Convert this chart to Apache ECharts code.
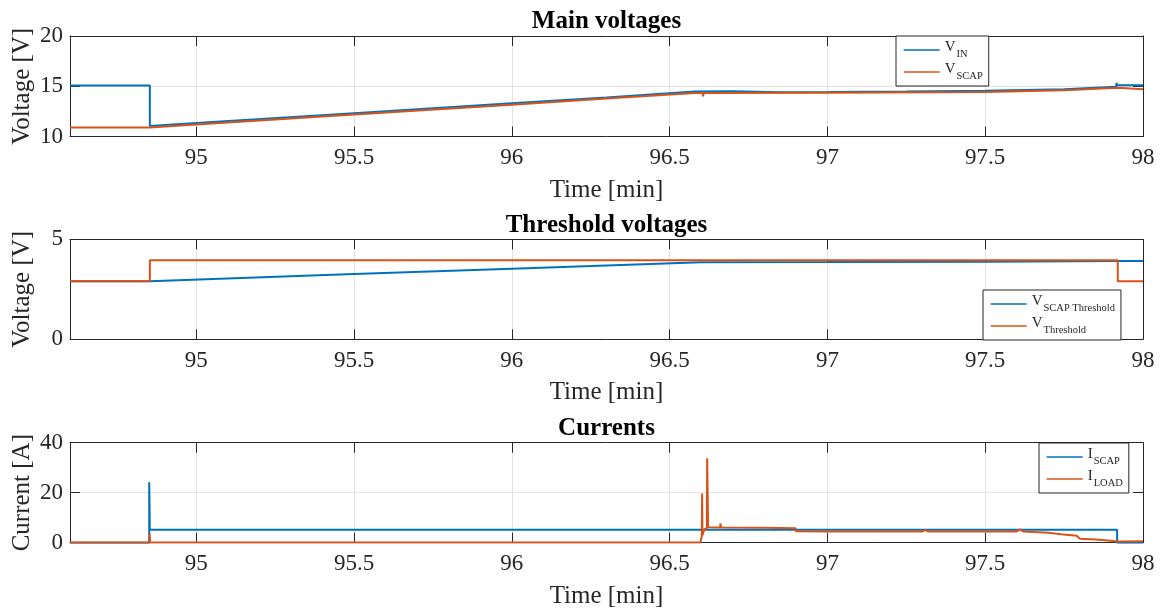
<!DOCTYPE html>
<html>
<head>
<meta charset="utf-8">
<script src="https://cdn.jsdelivr.net/npm/echarts@6/dist/echarts.min.js"></script>
<style>
  html, body { margin: 0; padding: 0; background: #ffffff; }
  #chart { width: 1163px; height: 611px; }
</style>
</head>
<body>
<div id="chart"></div>
<script>
// Time window shown on every panel [min]
const timeRange = [94.6, 98];
const timeTicks = [95, 95.5, 96, 96.5, 97, 97.5, 98];

// Main voltages [V] as [time, value]
const vIn = [
  [94.6, 15.07], [94.853, 15.07], [94.853, 11.05], [95.0, 11.34], [95.5, 12.32],
  [96.0, 13.3], [96.3, 13.89], [96.58, 14.48], [96.7, 14.5], [96.85, 14.4],
  [97.0, 14.42], [97.25, 14.47], [97.5, 14.55], [97.75, 14.7], [97.915, 14.95],
  [97.916, 15.35], [97.918, 15.1], [98.0, 15.1]
];
const vScap = [
  [94.6, 10.9], [94.853, 10.9], [95.0, 11.19], [95.5, 12.18], [96.0, 13.17],
  [96.3, 13.77], [96.58, 14.32], [96.605, 14.32], [96.606, 14.0], [96.608, 14.32],
  [97.0, 14.35], [97.5, 14.42], [97.75, 14.6], [97.92, 14.85], [98.0, 14.7]
];

// Threshold voltages [V]
const vScapThreshold = [
  [94.6, 2.9], [94.853, 2.9], [95.5, 3.27], [96.0, 3.53], [96.6, 3.85],
  [97.0, 3.86], [97.5, 3.88], [97.92, 3.92], [98.0, 3.92]
];
const vThreshold = [
  [94.6, 2.9], [94.853, 2.9], [94.853, 3.95], [97.92, 3.95], [97.92, 2.9], [98.0, 2.9]
];

// Currents [A]
const iScap = [
  [94.6, 0], [94.851, 0], [94.851, 24.2], [94.853, 5.2], [97.918, 5.2],
  [97.918, 0], [98.0, 0]
];
const iLoad = [
  [94.6, 0.1], [94.852, 0.1], [94.852, 3.9], [94.854, 0.1], [96.597, 0.1],
  [96.602, 2.5], [96.603, 19.7], [96.604, 3.0], [96.61, 5.3], [96.618, 5.8],
  [96.619, 33.8], [96.621, 33.8], [96.622, 6.2], [96.66, 6.1], [96.661, 7.7],
  [96.663, 6.1], [96.8, 6.0], [96.9, 5.8], [96.9, 4.6], [97.0, 4.5],
  [97.3, 4.45], [97.31, 5.0], [97.32, 4.45], [97.6, 4.5], [97.61, 5.3],
  [97.62, 4.5], [97.7, 4.0], [97.74, 3.4], [97.79, 2.8], [97.8, 1.6],
  [97.85, 1.3], [97.88, 1.0], [97.92, 0.5], [98.0, 0.6]
];

// Panel titles and axis names
const panelTitles = ['Main voltages', 'Threshold voltages', 'Currents'];
const yNames = ['Voltage [V]', 'Voltage [V]', 'Current [A]'];
const xName = 'Time [min]';
const yRanges = [[10, 20, 5], [0, 5, 5], [0, 40, 20]];

// Legend labels: main letter + subscript
const legendLabels = {
  'V_IN': ['V', 'IN'],
  'V_SCAP': ['V', 'SCAP'],
  'V_SCAP Threshold': ['V', 'SCAP Threshold'],
  'V_Threshold': ['V', 'Threshold'],
  'I_SCAP': ['I', 'SCAP'],
  'I_LOAD': ['I', 'LOAD']
};

const BLUE = '#0072BD';
const ORANGE = '#D95319';
const INK = '#262626';
const GRIDC = '#e3e3e3';
const FONT = 'Liberation Serif';
const FS = 23;       // tick labels
const FS_LABEL = 25; // axis names and titles

const gridTops = [36, 239.3, 442.7];
const gridHeights = [100.5, 100, 100];

const grids = gridTops.map((t, i) => ({
  left: 70, right: 20, top: t, height: gridHeights[i],
  containLabel: false, outerBoundsMode: 'none'
}));

const xAxes = [];
const yAxes = [];
gridTops.forEach((t, i) => {
  xAxes.push({
    type: 'value', gridIndex: i, min: timeRange[0], max: timeRange[1], position: 'bottom',
    name: xName, nameLocation: 'middle', nameGap: 41, nameMoveOverlap: false,
    nameTextStyle: { fontFamily: FONT, fontSize: FS_LABEL, color: INK },
    axisLine: { show: true, onZero: false, lineStyle: { color: INK, width: 1 } },
    axisTick: { show: true, inside: true, length: 10, customValues: timeTicks, lineStyle: { color: INK } },
    axisLabel: { show: true, customValues: timeTicks, margin: 10, fontFamily: FONT, fontSize: FS, color: INK },
    splitLine: { show: true, lineStyle: { color: GRIDC, width: 1 } }
  });
  xAxes.push({
    type: 'value', gridIndex: i, min: timeRange[0], max: timeRange[1], position: 'top',
    axisLine: { show: true, onZero: false, lineStyle: { color: INK, width: 1 } },
    axisTick: { show: true, inside: true, length: 10, customValues: timeTicks, lineStyle: { color: INK } },
    axisLabel: { show: false },
    splitLine: { show: false }
  });
  const [ymin, ymax, yint] = yRanges[i];
  yAxes.push({
    type: 'value', gridIndex: i, min: ymin, max: ymax, interval: yint, position: 'left',
    name: yNames[i], nameLocation: 'middle', nameGap: 35, nameRotate: 90, nameMoveOverlap: false,
    nameTextStyle: { fontFamily: FONT, fontSize: FS_LABEL, color: INK },
    axisLine: { show: true, onZero: false, lineStyle: { color: INK, width: 1 } },
    axisTick: { show: true, inside: true, length: 10, lineStyle: { color: INK } },
    axisLabel: { show: true, margin: 7, fontFamily: FONT, fontSize: FS, color: INK },
    splitLine: { show: true, lineStyle: { color: GRIDC, width: 1 } }
  });
  yAxes.push({
    type: 'value', gridIndex: i, min: ymin, max: ymax, interval: yint, position: 'right',
    axisLine: { show: true, onZero: false, lineStyle: { color: INK, width: 1 } },
    axisTick: { show: true, inside: true, length: 10, lineStyle: { color: INK } },
    axisLabel: { show: false },
    splitLine: { show: false }
  });
});

function lineSeries(name, data, color, panel, width) {
  return {
    name, type: 'line', data, xAxisIndex: 2 * panel, yAxisIndex: 2 * panel,
    symbol: 'none', showSymbol: false, animation: false,
    lineStyle: { color, width }, itemStyle: { color }
  };
}

const series = [
  lineSeries('V_IN', vIn, BLUE, 0, 2),
  lineSeries('V_SCAP', vScap, ORANGE, 0, 2),
  lineSeries('V_SCAP Threshold', vScapThreshold, BLUE, 1, 2),
  lineSeries('V_Threshold', vThreshold, ORANGE, 1, 2),
  lineSeries('I_SCAP', iScap, BLUE, 2, 2),
  lineSeries('I_LOAD', iLoad, ORANGE, 2, 2)
];

const legendRich = {
  m: { fontFamily: FONT, fontSize: 15, color: INK, verticalAlign: 'top', lineHeight: 16 },
  s: { fontFamily: FONT, fontSize: 10.5, color: INK, verticalAlign: 'top', padding: [9, 0, 0, 1] }
};

function legendBox(names, left, top) {
  return {
    data: names, orient: 'vertical', left, top,
    padding: [4, 6, 4, 7], itemGap: 2, itemWidth: 36, itemHeight: 10,
    backgroundColor: '#ffffff', borderColor: INK, borderWidth: 1, borderRadius: 0,
    selectedMode: false,
    lineStyle: { width: 1.3 },
    itemStyle: { opacity: 0 },
    formatter: (n) => `{m|${legendLabels[n][0]}}{s|${legendLabels[n][1]}}`,
    textStyle: { rich: legendRich }
  };
}

const option = {
  animation: false,
  backgroundColor: '#ffffff',
  title: panelTitles.map((txt, i) => ({
    text: txt, left: 606.5, top: gridTops[i] - 26.5, textAlign: 'center', padding: 0,
    textStyle: { fontFamily: FONT, fontSize: FS_LABEL, fontWeight: 'bold', color: '#000000' }
  })),
  grid: grids,
  xAxis: xAxes,
  yAxis: yAxes,
  legend: [
    legendBox(['V_IN', 'V_SCAP'], 896, 36),
    legendBox(['V_SCAP Threshold', 'V_Threshold'], 983, 290),
    legendBox(['I_SCAP', 'I_LOAD'], 1039, 443)
  ],
  series
};

const chart = echarts.init(document.getElementById('chart'), null, { renderer: 'canvas' });
chart.setOption(option);
</script>
</body>
</html>
